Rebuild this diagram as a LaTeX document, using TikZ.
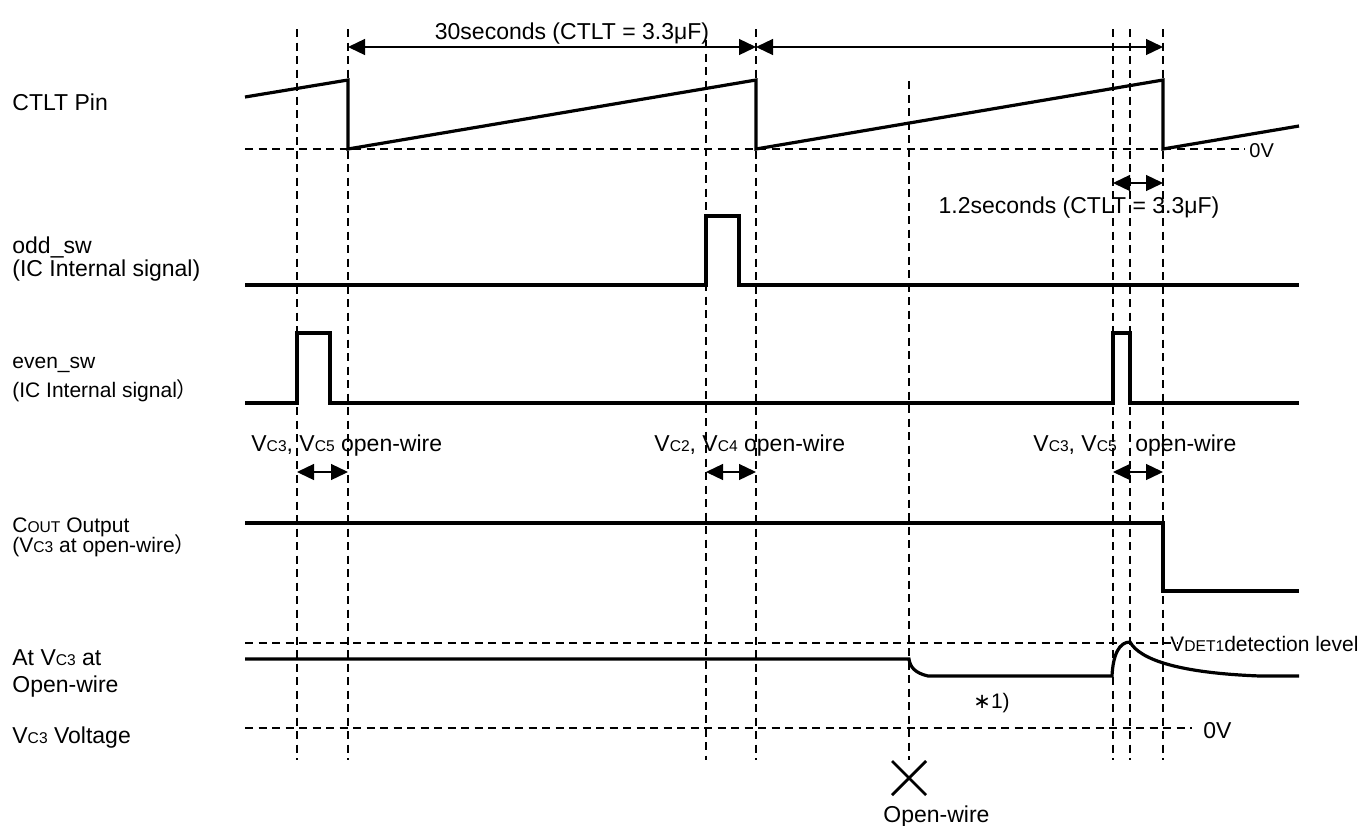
\documentclass[tikz,border=0pt]{standalone}
\usepackage{fontspec}
\setmainfont{Liberation Sans}
\newfontfamily\cjk{Noto Sans CJK JP}
\newfontfamily\dvs{DejaVu Sans}
\usetikzlibrary{arrows.meta}
\newcommand\smc[1]{{\fontsize{7.8}{8}\selectfont #1}}
\begin{document}
\begin{tikzpicture}[x=0.5pt,y=-0.5pt,
  wave/.style={line width=1.6pt, line join=miter},
  guide/.style={line width=0.6pt, dash pattern=on 4pt off 2.75pt},
  dimarr/.style={line width=0.65pt, {Triangle[length=8.5pt,width=8pt]}-{Triangle[length=8.5pt,width=8pt]}},
  lbl/.style={anchor=base west, inner sep=0pt, font=\fontsize{11.5}{13}\selectfont},
  lbls/.style={anchor=base west, inner sep=0pt, font=\fontsize{10.5}{12}\selectfont},
  xmark/.style={line width=1.4pt}]
\useasboundingbox (0,0) rectangle (1365,825);

% vertical guide lines
\foreach \n/\x/\t in {1/297/29, 2/348/29, 3/706/40, 4/756/29, 5/909/81, 6/1113/29, 7/1130/29, 8/1163/29}{
  \coordinate (vt\n) at (\x,\t);
  \coordinate (vb\n) at (\x,760);
  \draw[guide] (vt\n) -- (vb\n);
}

% horizontal guide lines
\coordinate (ha1) at (245,149); \coordinate (hb1) at (1245,149);
\coordinate (ha2) at (245,643); \coordinate (hb2) at (1178,643);
\coordinate (ha3) at (245,728); \coordinate (hb3) at (1192,728);
\draw[guide] (ha1) -- (hb1);
\draw[guide] (ha2) -- (hb2);
\draw[guide] (ha3) -- (hb3);

% dimension arrows
\coordinate (a1) at (348,47); \coordinate (a2) at (756,47); \coordinate (a3) at (1163,47);
\draw[dimarr] (a1) -- (a2);
\draw[dimarr] (a2) -- (a3);
\coordinate (c1) at (1113,183); \coordinate (c2) at (1163,183);
\draw[dimarr] (c1) -- (c2);
\coordinate (d1) at (297,472); \coordinate (d2) at (348,472);
\draw[dimarr] (d1) -- (d2);
\coordinate (e1) at (706,472); \coordinate (e2) at (756,472);
\draw[dimarr] (e1) -- (e2);
\coordinate (f1) at (1113,472); \coordinate (f2) at (1163,472);
\draw[dimarr] (f1) -- (f2);

% waveforms
\draw[wave] (245,97) -- (348,80) -- (348,149) -- (756,80) -- (756,149) -- (1163,80) -- (1163,149) -- (1299,126);
\draw[wave] (245,285) -- (706,285) -- (706,216) -- (739,216) -- (739,285) -- (1299,285);
\draw[wave] (245,403) -- (297,403) -- (297,333) -- (330,333) -- (330,403) -- (1113,403) -- (1113,333) -- (1130,333) -- (1130,403) -- (1299,403);
\draw[wave] (245,523) -- (1163,523) -- (1163,591) -- (1299,591);
\draw[wave] (245,659) -- (909,659) .. controls (910,667) and (915,673) .. (928,676) -- (1112,676) .. controls (1113,655) and (1119,642) .. (1130,642) .. controls (1140,660) and (1180,673) .. (1260,676) -- (1299,676);

% open-wire mark
\coordinate (x1) at (892,761); \coordinate (x2) at (926,795);
\coordinate (x3) at (926,761); \coordinate (x4) at (892,795);
\draw[xmark] (x1) -- (x2);
\draw[xmark] (x3) -- (x4);

% texts
\node[lbl, anchor=base] (t30) at (572,39) {30seconds (CTLT = 3.3μF)};
\node[lbl, anchor=base] (t12) at (1079,213) {1.2seconds (CTLT = 3.3μF)};
\node[anchor=base west, inner sep=0pt, font=\fontsize{10}{12}\selectfont] (z1) at (1249,157) {0V};
\node[lbl] (z2) at (1203,738) {0V};
\node[lbls] (vdet) at (1170,651) {V\smc{DET1}detection level};
\node[lbls] (n1) at (973,708) {{\dvs ∗}1)};
\node[lbl] (ow) at (883,822) {Open-wire};

\node[lbl] (o1) at (251,451) {V\smc{C3}, V\smc{C5} open-wire};
\node[lbl] (o2) at (654,451) {V\smc{C2}, V\smc{C4} open-wire};
\node[lbl] (o3) at (1033,451) {V\smc{C3}, V\smc{C5}};
\node[lbl] (o4) at (1135,451) {open-wire};

\node[lbl] (L1) at (12,110) {CTLT Pin};
\node[lbl] (L2) at (12,253) {odd\_sw};
\node[lbl] (L3) at (12,276) {(IC Internal signal)};
\node[lbls] (L4) at (12,368) {even\_sw};
\node[lbls] (L5) at (12,397) {(IC Internal signal{\cjk ）}};
\node[lbls] (L6) at (12,532) {C\smc{OUT} Output};
\node[lbls] (L7) at (12,552) {(V\smc{C3} at open-wire{\cjk ）}};
\node[lbl] (L8) at (12,665) {At V\smc{C3} at};
\node[lbl] (L9) at (12,692) {Open-wire};
\node[lbl] (L10) at (12,743) {V\smc{C3} Voltage};
\end{tikzpicture}
\end{document}
